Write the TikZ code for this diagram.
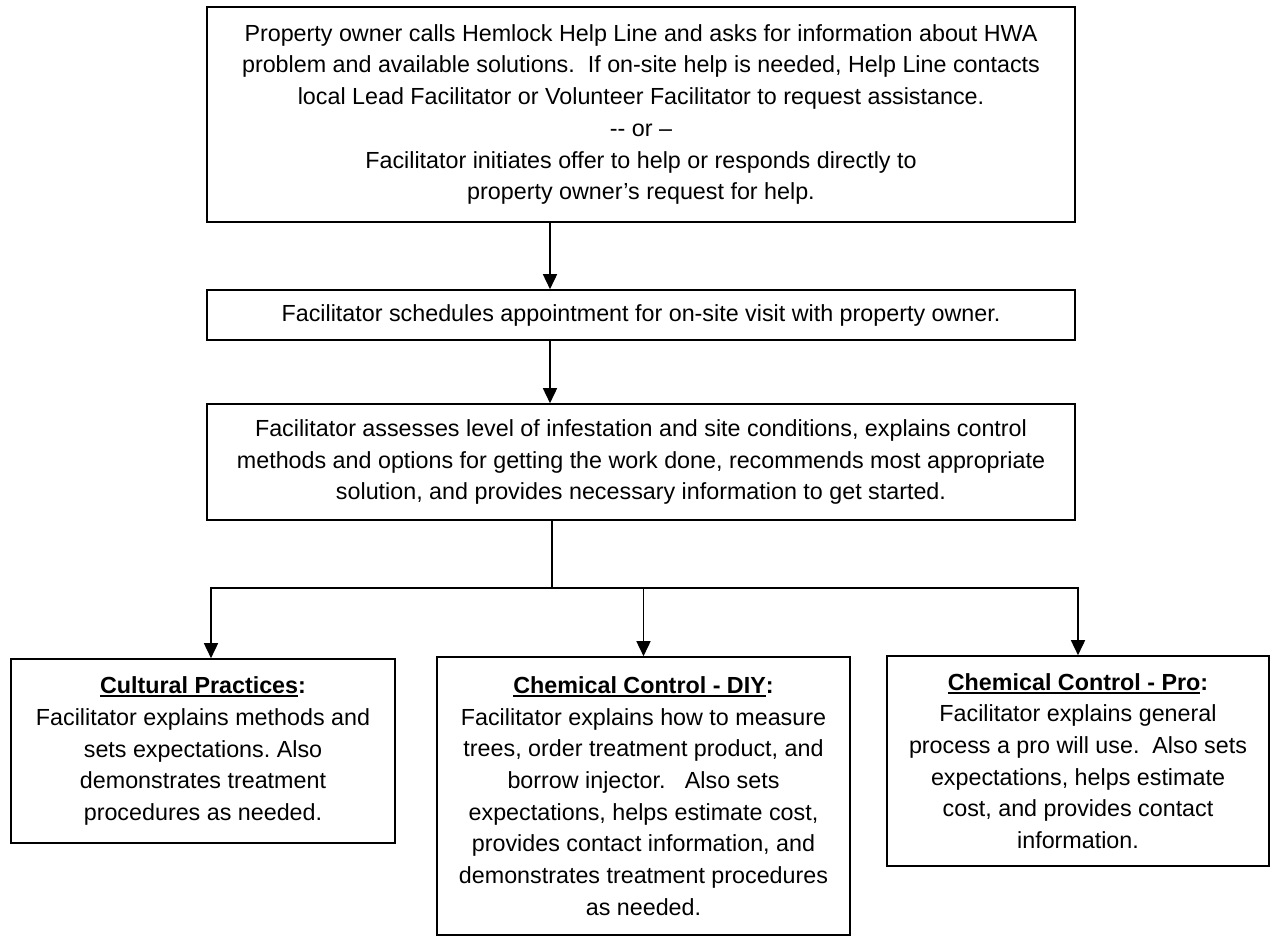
\documentclass[tikz,border=0pt]{standalone}
\usepackage{fontspec}
\setmainfont{Liberation Sans}
\usetikzlibrary{arrows.meta}

% underlined heading, colon left out of the rule
\newcommand{\headline}[1]{\setbox0\hbox{\textbf{#1}}\rlap{\rule[-3.5pt]{\wd0}{1.8pt}}\box0\textbf{:}}

\tikzset{step box/.style={draw, line width=1.6pt, inner sep=0pt, align=center,
        font=\fontsize{23.3pt}{31.7pt}\selectfont\frenchspacing},
    wide box/.style={step box, minimum width=868pt},
    flow/.style={line width=1.6pt, -{Triangle[length=15pt, width=14pt]}},
    feed/.style={line width=1.6pt},
}

\begin{document}
\begin{tikzpicture}[x=1pt, y=-1pt]
	\useasboundingbox (0, 0) rectangle (1271, 936);

	% request
	\node[wide box, minimum height=215pt] (call) at (641, 114.5) {Property owner calls Hemlock Help Line and asks for information about HWA\\
		problem and available solutions.\ \ If on-site help is needed, Help Line contacts\\
		local Lead Facilitator or Volunteer Facilitator to request assistance.\\
		-{}- or –\\
		Facilitator initiates offer to help or responds directly to\\
		property owner’s request for help.};
	% visit
	\node[wide box, minimum height=50pt] (visit) at (641, 315) {Facilitator schedules appointment for on-site visit with property owner.};
	% assessment
	\node[wide box, minimum height=116pt] (assess) at (641, 462) {Facilitator assesses level of infestation and site conditions, explains control\\
		methods and options for getting the work done, recommends most appropriate\\
		solution, and provides necessary information to get started.};

	% options
		% cultural
		\node[step box, minimum width=384pt, minimum height=184pt] (cultural) at (203, 751) {\headline{Cultural Practices}\\
			Facilitator explains methods and\\
			sets expectations. Also\\
			demonstrates treatment\\
			procedures as needed.};
		% do it yourself
		\node[step box, minimum width=413pt, minimum height=278pt] (diy) at (643.5, 796) {\headline{Chemical Control - DIY}\\
			Facilitator explains how to measure\\
			trees, order treatment product, and\\
			borrow injector.\ \ \ Also sets\\
			expectations, helps estimate cost,\\
			provides contact information, and\\
			demonstrates treatment procedures\\
			as needed.};
		% professional
		\node[step box, minimum width=382pt, minimum height=210pt] (pro) at (1078, 761) {\headline{Chemical Control - Pro}\\
			Facilitator explains general\\
			process a pro will use.\ \ Also sets\\
			expectations, helps estimate\\
			cost, and provides contact\\
			information.};

	% arrows
	\draw[flow] ([xshift=-91pt]call.south) -- ([xshift=-91pt]visit.north);
	\draw[flow] ([xshift=-91pt]visit.south) -- ([xshift=-91pt]assess.north);
	\coordinate (split) at (552, 588);
	\draw[feed] ([xshift=-89pt]assess.south) -- (split);
	\draw[flow] (split) -| ([xshift=8pt]cultural.north);
	\draw[flow] (split -| diy.north) -- (diy.north);
	\draw[flow] (split) -| (pro.north);
\end{tikzpicture}
\end{document}
